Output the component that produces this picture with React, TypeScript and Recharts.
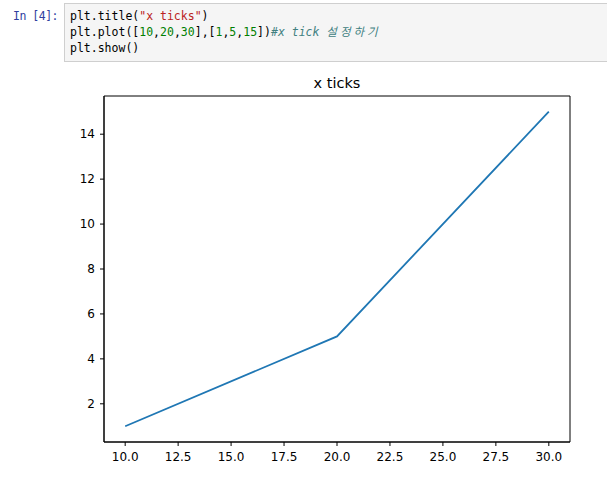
import React from "react";
import { LineChart, Line, XAxis, YAxis, ReferenceArea } from "recharts";

const xValues = [10, 20, 30];
const yValues = [1, 5, 15];
const xTicks = [10, 12.5, 15, 17.5, 20, 22.5, 25, 27.5, 30];
const yTicks = [2, 4, 6, 8, 10, 12, 14];
const titleText = "x ticks";

const data = xValues.map((x, i) => ({ x, y: yValues[i] }));

const mono = "'DejaVu Sans Mono', 'Noto Sans CJK KR', monospace";
const sans = "'DejaVu Sans', sans-serif";

export default function App() {
  return (
    <div style={{ position: "absolute", left: 0, top: 0, width: 607, height: 477, background: "#fff", overflow: "hidden" }}>
      <svg width={607} height={477} style={{ position: "absolute", left: 0, top: 0 }}>
        <rect x={64.5} y={3.5} width={560} height={58} fill="#f5f5f5" stroke="#cfcfcf" strokeWidth={1} />
        <text x={58} y={20} textAnchor="end" fontFamily={mono} fontSize={11.5} letterSpacing={-0.5} fill="#303F9F">In [4]:</text>
        <text x={70} y={20} fontFamily={mono} fontSize={11.5} fill="#000">
          plt.title(<tspan fill="#BA2121">"x ticks"</tspan>)
        </text>
        <text x={70} y={36} fontFamily={mono} fontSize={11.5} fill="#000">
          plt.plot([<tspan fill="#008000">10</tspan>,<tspan fill="#008000">20</tspan>,<tspan fill="#008000">30</tspan>],[<tspan fill="#008000">1</tspan>,<tspan fill="#008000">5</tspan>,<tspan fill="#008000">15</tspan>])<tspan fill="#408080" fontStyle="italic">#x tick </tspan><tspan fill="#408080" fontStyle="italic" letterSpacing={3}>설정하기</tspan>
        </text>
        <text x={70} y={52} fontFamily={mono} fontSize={11.5} fill="#000">plt.show()</text>
        <text x={337} y={88} textAnchor="middle" fontFamily={sans} fontSize={14.5} fill="#000">{titleText}</text>
      </svg>
      <div style={{ position: "absolute", left: 0, top: 0 }}>
        <LineChart width={607} height={477} data={data} margin={{ top: 96, right: 37, left: 64, bottom: 0 }}>
          <XAxis
            dataKey="x"
            type="number"
            domain={[9, 31]}
            ticks={xTicks}
            allowDataOverflow
            tickFormatter={(v: number) => v.toFixed(1)}
            height={35}
            tickSize={4}
            tickMargin={6}
            stroke="#000"
            tick={{ fill: "#000", fontFamily: sans, fontSize: 12 }}
            tickLine={{ stroke: "#000" }}
            axisLine={{ stroke: "#000" }}
          />
          <YAxis
            dataKey="y"
            type="number"
            domain={[0.3, 15.7]}
            ticks={yTicks}
            allowDataOverflow
            width={40}
            tickSize={4}
            tickMargin={5}
            stroke="#000"
            tick={{ fill: "#000", fontFamily: sans, fontSize: 12 }}
            tickLine={{ stroke: "#000" }}
            axisLine={{ stroke: "#000" }}
          />
          <ReferenceArea x1={9} x2={31} y1={0.3} y2={15.7} fill="none" stroke="#000" strokeWidth={1} fillOpacity={0} />
          <Line type="linear" dataKey="y" stroke="#1f77b4" strokeWidth={1.8} dot={false} isAnimationActive={false} />
        </LineChart>
      </div>
    </div>
  );
}
